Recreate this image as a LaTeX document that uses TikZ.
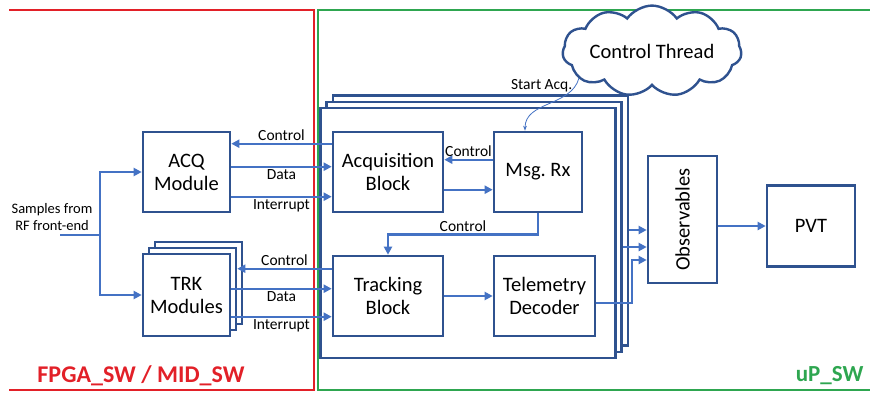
\documentclass[tikz,border=0pt]{standalone}
\usepackage{fontspec}
\setmainfont{Carlito}
\usepackage{graphicx}
\usetikzlibrary{arrows.meta,shapes.symbols}
\definecolor{boxblue}{RGB}{47,82,143}
\definecolor{arrblue}{RGB}{68,114,196}
\definecolor{swred}{RGB}{226,32,40}
\definecolor{swgreen}{RGB}{46,166,80}

\begin{document}
\begin{tikzpicture}[x=1pt, y=-1pt,
	blk/.style = {draw = boxblue, line width = 2.6pt, fill = white, align = center, inner sep = 0pt, font = \fontsize{20.5}{23}\selectfont},
	frame/.style = {draw = boxblue, line width = 2.6pt, fill = white, inner sep = 0pt},
	arr/.style = {draw = arrblue, line width = 2.4pt, -{Triangle[length=8pt, width=8pt]}},
	lbl/.style = {text = black, font = \fontsize{15.5}{17}\selectfont, inner sep = 1.5pt},
	>=stealth]
					\useasboundingbox (0,0) rectangle (870,392);
					\draw[swred, line width = 2.6pt] (9,10) -- (314,10) -- (314,390) -- (9,390);
					\draw[swgreen, line width = 2.6pt] (872,10) -- (318,10) -- (318,390) -- (872,390);
					\node[text = swred, font = \fontsize{24}{26}\selectfont\bfseries] (fpga) at (141,376) {FPGA\_SW / MID\_SW};
					\node[text = swgreen, font = \fontsize{23}{25}\selectfont\bfseries, anchor = east] (up) at (867,376) {uP\_SW};

					\node[frame, minimum width = 295, minimum height = 250] (chb2) at (480.5,220.5) {};
					\node[frame, minimum width = 295, minimum height = 250] (chb1) at (474,227) {};
					\node[frame, minimum width = 295, minimum height = 250] (chf) at (468,233) {};

					\node[blk, minimum width = 87, minimum height = 80] (acq) at (186.5,172) {ACQ\\Module};
					\node[blk, minimum width = 87, minimum height = 82] (trkb2) at (198.5,283) {};
					\node[blk, minimum width = 87, minimum height = 82] (trkb1) at (192.5,289) {};
					\node[blk, minimum width = 87, minimum height = 82] (trk) at (186.5,295) {TRK\\Modules};

					\node[blk, minimum width = 110, minimum height = 80] (acqb) at (388,172) {Acquisition\\Block};
					\node[blk, minimum width = 88, minimum height = 80] (msg) at (538,172) {Msg.\ Rx};
					\node[blk, minimum width = 110, minimum height = 80] (trkb) at (388,296) {Tracking\\Block};
					\node[blk, minimum width = 101, minimum height = 80] (tlm) at (544.5,296) {Telemetry\\Decoder};
					\node[blk, minimum width = 69, minimum height = 127] (obs) at (682.5,219.5) {\rotatebox{90}{Observables}};
					\node[blk, minimum width = 88, minimum height = 81] (pvt) at (811,226) {PVT};

					\node[cloud, cloud puffs = 11, cloud puff arc = 110, aspect = 2.6, draw = boxblue, line width = 2.4pt, fill = white, minimum width = 172, minimum height = 70, font = \fontsize{20.5}{23}\selectfont, inner sep = 0pt] (ctl) at (652,51) {Control Thread};

					\node[lbl, align = center, font = \fontsize{14.5}{17}\selectfont] (src) at (52,217) {Samples from\\RF front-end};
					\coordinate (in) at (60,235);
					\coordinate (split) at (100,235);
					\draw[arrblue, line width = 2.4pt] (in) -- (split);
					\draw[arr] (split) |- (acq);
					\draw[arr] (split) |- (trk);

					\draw[arr] ([yshift=-13pt]acqb.north west) -- ([yshift=-13pt]acq.north east) node[lbl, midway, above] {Control};
					\draw[arr] ([yshift=-36pt]acq.north east) -- ([yshift=-36pt]acqb.north west) node[lbl, midway, below] {Data};
					\draw[arr] ([yshift=-66pt]acq.north east) -- ([yshift=-66pt]acqb.north west) node[lbl, midway, below] {Interrupt};

					\draw[arr] ([yshift=-14pt]trkb.north west) -- ([yshift=-14pt]trkb1.north east |- trkb.north west) node[lbl, midway, above] {Control};
					\draw[arr] ([yshift=-34pt]trk.north east |- trkb.north) -- ([yshift=-34pt]trkb.north west) node[lbl, midway, below] {Data};
					\draw[arr] ([yshift=-62pt]trk.north east |- trkb.north) -- ([yshift=-62pt]trkb.north west) node[lbl, midway, below] {Interrupt};

					\draw[arr] ([yshift=-29pt]msg.north west) -- ([yshift=-29pt]acqb.north east) node[lbl, midway, above] {Control};
					\draw[arr] ([yshift=-59pt]acqb.north east) -- ([yshift=-59pt]msg.north west);
					\draw[arr] (msg.south) -- ++(0,21) -| (trkb.north) node[lbl, pos = 0.25, above] {Control};
					\draw[arr] (trkb) -- (tlm);

					\coordinate (o1) at ([yshift=-10.5pt]obs.west);
					\coordinate (o2) at ([yshift=-27.5pt]obs.west);
					\coordinate (o3) at ([yshift=-40.5pt]obs.west);
					\draw[arr] (chb2.east |- o1) -- (o1);
					\draw[arr] (chb1.east |- o2) -- (o2);
					\draw[arr] ([yshift=-7pt]tlm.east) -| ([xshift=-15pt]o3) -- (o3);
					\draw[arr] (obs.east |- pvt) -- (pvt);

					\coordinate (cst) at (579,78);
					\draw[arrblue, line width = 0.8pt, -{Stealth[length=5pt]}] (cst) to[out = -105, in = 90] ([xshift=-13pt]msg.north);
					\node[lbl, anchor = east] (sacq) at (574,86) {Start Acq.};
				\end{tikzpicture}
\end{document}
